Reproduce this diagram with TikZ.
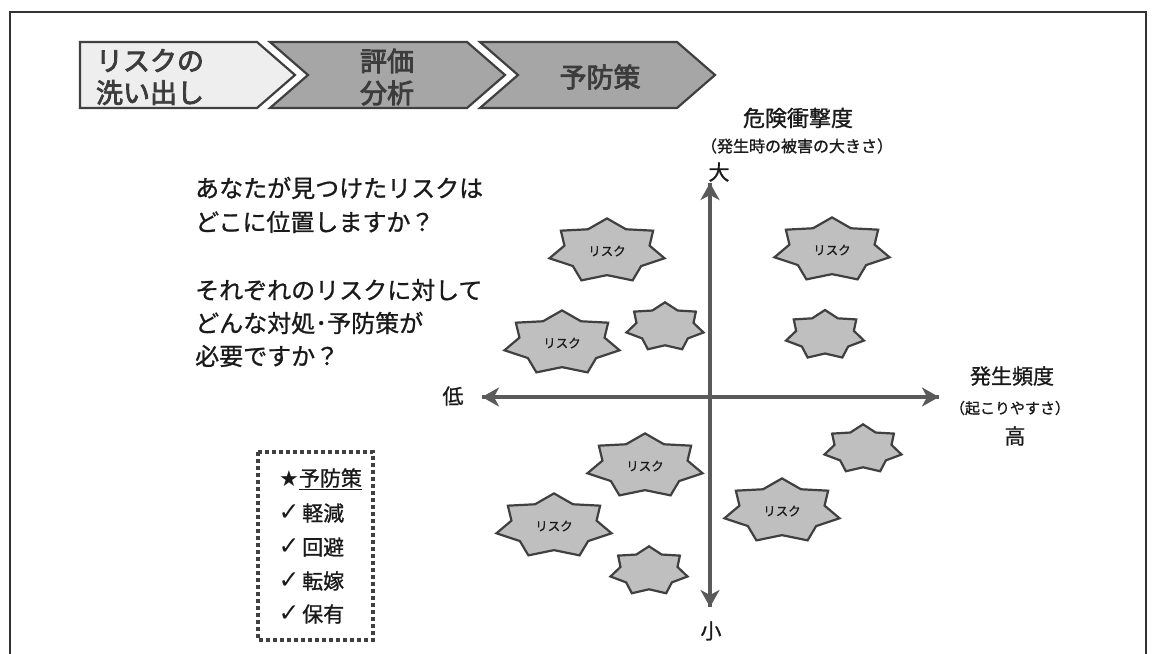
\documentclass[tikz,border=0pt]{standalone}
\usepackage{fontspec}
\setmainfont[FakeBold=1]{Noto Sans CJK JP}
\newfontfamily\jpbold[FakeBold=3]{Noto Sans CJK JP}
\newfontfamily\symfont{DejaVu Sans}
\usetikzlibrary{arrows.meta}
\definecolor{axisgray}{HTML}{5A5A5A}
\definecolor{edgegray}{HTML}{404040}
\definecolor{starfill}{HTML}{BFBFBF}
\definecolor{chevlight}{HTML}{EEEEEE}
\definecolor{chevdark}{HTML}{A6A6A6}
\definecolor{txt}{HTML}{1A1A1A}
\definecolor{chevtxt}{HTML}{3C3C3C}
\newcommand\riskstar[6]{%
  \draw[starshape] plot[variable=\k, samples at={0,...,13}]
    ({#2+ifthenelse(mod(\k,2)==0,1,0.74)*#4*cos(90+\k*180/7)},
     {#3-ifthenelse(mod(\k,2)==0,1,0.74)*#5*sin(90+\k*180/7)}) -- cycle;
  \node[startext] (#1) at (#2,#3) {#6};
}
\begin{document}
\begin{tikzpicture}[x=1pt,y=-1pt,
  frameline/.style={draw=black!80,line width=1.6pt},
  chevbox/.style={draw=edgegray,line width=2.2pt,line join=miter},
  chevlabel/.style={text=chevtxt,font=\jpbold\fontsize{27}{32}\selectfont,align=center,inner sep=0pt},
  axis/.style={draw=axisgray,line width=4pt,-{Stealth[length=17pt,width=19pt,inset=5pt]}},
  axislabel/.style={text=txt,font=\fontsize{21}{24}\selectfont,inner sep=0pt},
  sublabel/.style={text=txt,font=\fontsize{15}{18}\selectfont,inner sep=0pt},
  question/.style={text=txt,font=\fontsize{24}{30}\selectfont,anchor=west,inner sep=0pt},
  starshape/.style={draw=edgegray,fill=starfill,line width=2.2pt,line join=miter},
  startext/.style={text=txt,font=\fontsize{12.5}{14}\selectfont,inner sep=0pt},
  dotbox/.style={draw=edgegray,line width=4pt,dash pattern=on 4pt off 3pt},
  listitem/.style={text=txt,font=\fontsize{21}{24}\selectfont,anchor=west,inner sep=0pt},
  checkmark/.style={text=txt,font=\symfont\fontsize{25}{26}\selectfont,inner sep=0pt}
]
\useasboundingbox (0,0) rectangle (1156,653);
\fill[white] (0,0) rectangle (1156,653);
% frame
\draw[frameline] (10,660) -- (10,12) -- (1146,12) -- (1146,660);
% chevrons
\draw[chevbox,fill=chevlight] (80,42) -- (257,42) -- (295,75) -- (257,108) -- (80,108) -- cycle;
\draw[chevbox,fill=chevdark] (270,42) -- (467,42) -- (505,75) -- (467,108) -- (270,108) -- (308,75) -- cycle;
\draw[chevbox,fill=chevdark] (480,42) -- (677,42) -- (715,75) -- (677,108) -- (480,108) -- (518,75) -- cycle;
\node[chevlabel] (c1) at (150,77) {リスクの\\洗い出し};
\node[chevlabel] (c2) at (387,77) {評価\\分析};
\node[chevlabel] (c3) at (600,77) {予防策};
% axes
\coordinate (vtop) at (710,183);
\coordinate (vbot) at (710,607);
\coordinate (hleft) at (482,397);
\coordinate (hright) at (939,397);
\draw[axis] (vtop) -- (vbot);
\draw[axis] (vbot) -- (vtop);
\draw[axis] (hleft) -- (hright);
\draw[axis] (hright) -- (hleft);
\node[axislabel,font=\fontsize{22}{24}\selectfont] (impact) at (798,118) {危険衝撃度};
\node[sublabel,font=\fontsize{16}{18}\selectfont] (impactsub) at (797,146) {（発生時の被害の大きさ）};
\node[axislabel] (big) at (719,172) {大};
\node[axislabel] (small) at (711,631) {小};
\node[axislabel] (low) at (453,396) {低};
\node[axislabel] (freq) at (1012,376) {発生頻度};
\node[sublabel] (freqsub) at (1010,408) {（起こりやすさ）};
\node[axislabel] (high) at (1015,436) {高};
% questions
\node[question] (q1) at (195,188) {あなたが見つけたリスクは};
\node[question] (q2) at (195,222) {どこに位置しますか？};
\node[question] (q3) at (195,290) {それぞれのリスクに対して};
\node[question] (q4) at (195,323) {どんな対処･予防策が};
\node[question] (q5) at (195,356) {必要ですか？};
% stars
\riskstar{s1}{607}{251}{59}{32.6}{リスク}
\riskstar{s2}{832}{250}{59}{32.6}{リスク}
\riskstar{s3}{562}{343}{59}{32.6}{リスク}
\riskstar{s4}{665}{327}{39.5}{24.7}{}
\riskstar{s5}{825}{335}{40}{25}{}
\riskstar{s6}{645}{466}{59}{32.6}{リスク}
\riskstar{s7}{554}{526}{59}{32.6}{リスク}
\riskstar{s8}{649}{571}{39.5}{24.7}{}
\riskstar{s9}{782}{511}{59}{32.6}{リスク}
\riskstar{s10}{863}{449}{39.5}{24.7}{}
% legend box
\draw[dotbox] (258,452) rectangle (373,640);
\node[listitem] (l0) at (279,479) {{\symfont\fontsize{22}{24}\selectfont ★}\underline{予防策}};
\node[checkmark] (k1) at (289,513) {✓};
\node[checkmark] (k2) at (289,547) {✓};
\node[checkmark] (k3) at (289,581) {✓};
\node[checkmark] (k4) at (289,614) {✓};
\node[listitem] (l1) at (302,513) {軽減};
\node[listitem] (l2) at (302,547) {回避};
\node[listitem] (l3) at (302,581) {転嫁};
\node[listitem] (l4) at (302,614) {保有};
\end{tikzpicture}
\end{document}
